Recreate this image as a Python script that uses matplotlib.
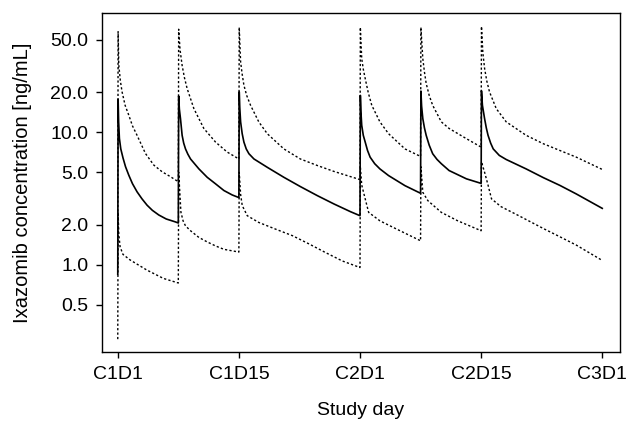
import matplotlib
matplotlib.use("Agg")
import matplotlib.pyplot as plt
from matplotlib.ticker import FixedLocator, NullLocator

# ---- data (day, concentration ng/mL) ----
median_day = [0, 0.04, 0.1, 0.19, 0.35, 0.61, 0.9, 1.27, 1.7, 2.23, 2.8, 3.39, 4.0, 4.74, 5.6, 6.66, 7.0,
              7.04, 7.12, 7.25, 7.44, 7.62, 7.83, 8.1, 8.41, 9.38, 10.34, 11.3, 12.27, 13.23, 14.0,
              14.04, 14.1, 14.2, 14.38, 14.58, 14.85, 15.16, 15.74, 17.28, 19.2, 21.1, 23.07, 25.0, 26.9, 28.0,
              28.04, 28.1, 28.2, 28.38, 28.6, 28.87, 29.17, 29.7, 30.3, 31.3, 33.2, 35.0,
              35.04, 35.12, 35.26, 35.45, 35.65, 36.0, 36.4, 36.9, 37.4, 38.3, 40.3, 42.0,
              42.04, 42.15, 42.4, 42.6, 42.8, 43.1, 43.4, 44.1, 44.9, 47.2, 49.2, 51.1, 53.0, 56.0]
median_conc = [0.85, 17.8, 12.0, 9.0, 7.5, 6.4, 5.5, 4.76, 4.1, 3.56, 3.15, 2.82, 2.58, 2.38, 2.22, 2.11, 2.07,
               18.8, 15.0, 12.7, 9.5, 8.3, 7.5, 6.85, 6.3, 5.3, 4.58, 4.09, 3.64, 3.37, 3.22,
               20.2, 15.5, 12.0, 9.8, 8.45, 7.5, 6.9, 6.3, 5.45, 4.58, 3.9, 3.33, 2.88, 2.52, 2.35,
               19.0, 14.5, 11.3, 9.5, 8.45, 7.3, 6.5, 5.8, 5.3, 4.72, 3.96, 3.47,
               20.5, 15.8, 12.7, 10.8, 9.5, 8.0, 6.9, 6.25, 5.8, 5.15, 4.46, 4.12,
               20.6, 16.0, 12.7, 10.8, 9.5, 8.3, 7.5, 6.7, 6.24, 5.3, 4.55, 3.98, 3.43, 2.67]

p95_day = [0, 0.04, 0.12, 0.3, 0.5, 0.85, 1.27, 1.7, 2.23, 3.2, 4.17, 5.13, 6.09, 7.0,
           7.04, 7.2, 7.44, 7.7, 8.02, 8.8, 9.95, 11.3, 12.65, 14.0,
           14.04, 14.2, 14.38, 14.58, 14.9, 15.35, 16.3, 17.28, 19.2, 21.1, 23.07, 25.0, 28.0,
           28.04, 28.2, 28.38, 28.6, 28.95, 29.36, 30.3, 31.3, 33.2, 35.0,
           35.04, 35.26, 35.45, 35.65, 36.0, 36.4, 37.4, 38.3, 40.3, 42.0,
           42.04, 42.2, 42.4, 42.65, 42.97, 43.75, 44.9, 47.2, 49.2, 51.1, 53.0, 56.0]
p95_conc = [1.0, 57.5, 32.2, 24.5, 20.2, 16.0, 13.5, 11.2, 9.5, 6.93, 5.66, 5.04, 4.63, 4.24,
            60.0, 42.0, 32.0, 26.0, 21.4, 15.1, 10.7, 8.45, 7.1, 6.3,
            62.0, 34.0, 27.5, 22.7, 19.0, 16.0, 12.0, 9.77, 7.5, 6.3, 5.62, 5.07, 4.4,
            62.0, 36.0, 30.0, 25.5, 20.0, 16.0, 12.0, 9.77, 7.5, 6.58,
            62.0, 36.0, 28.5, 23.4, 19.0, 16.0, 12.0, 10.7, 8.96, 7.74,
            63.0, 40.0, 30.4, 24.5, 20.2, 15.1, 12.0, 9.5, 8.2, 7.3, 6.5, 5.25]

p05_day = [0, 0.04, 0.12, 0.27, 0.6, 1.42, 3.36, 5.28, 7.0,
           7.04, 7.3, 7.55, 7.83, 8.41, 9.38, 10.34, 11.3, 12.27, 14.0,
           14.04, 14.2, 14.39, 14.97, 16.3, 18.25, 20.2, 22.1, 24.0, 25.96, 28.0,
           28.04, 28.2, 28.6, 29.0, 30.3, 32.25, 35.0,
           35.04, 35.26, 35.85, 37.4, 39.3, 42.0,
           42.04, 42.4, 42.8, 43.2, 44.3, 46.3, 49.2, 51.1, 53.0, 56.0]
p05_conc = [0.275, 2.5, 1.7, 1.37, 1.2, 1.09, 0.914, 0.79, 0.73,
            5.0, 2.5, 2.15, 1.97, 1.81, 1.61, 1.49, 1.39, 1.31, 1.25,
            5.0, 3.4, 2.8, 2.35, 2.09, 1.86, 1.66, 1.44, 1.24, 1.07, 0.955,
            5.5, 4.0, 3.15, 2.49, 2.15, 1.86, 1.52,
            5.5, 3.53, 3.05, 2.49, 2.15, 1.81,
            6.0, 5.0, 4.0, 3.15, 2.75, 2.36, 1.88, 1.63, 1.41, 1.08]

xtick_days = [0, 14, 28, 42, 56]
xtick_labels = ["C1D1", "C1D15", "C2D1", "C2D15", "C3D1"]
ytick_vals = [0.5, 1.0, 2.0, 5.0, 10.0, 20.0, 50.0]
ytick_labels = ["0.5", "1.0", "2.0", "5.0", "10.0", "20.0", "50.0"]

# ---- figure ----
plt.rcParams['font.family'] = ['Liberation Sans', 'DejaVu Sans']
plt.rcParams['font.size'] = 14

fig = plt.figure(figsize=(6.27, 4.23), dpi=100)
ax = fig.add_axes([0.1627, 0.1672, 0.8261, 0.8028])

dots = (0, (1.6, 1.6))
ax.plot(p95_day, p95_conc, color='black', lw=1.0, linestyle=dots)
ax.plot(p05_day, p05_conc, color='black', lw=1.0, linestyle=dots)
ax.plot(median_day, median_conc, color='black', lw=1.2, linestyle='-')

ax.set_yscale('log')
ax.set_xlim(-1.82, 58.05)
ax.set_ylim(0.219, 80.0)

ax.yaxis.set_major_locator(FixedLocator(ytick_vals))
ax.yaxis.set_minor_locator(NullLocator())
ax.set_yticklabels(ytick_labels)
ax.set_xticks(xtick_days)
ax.set_xticklabels(xtick_labels)

ax.tick_params(axis='both', direction='out', length=4.3, width=1.0,
               color='black', labelsize=14, pad=5.5)
for s in ax.spines.values():
    s.set_linewidth(1.0)
    s.set_color('black')

ax.set_xlabel("Study day", fontsize=14, labelpad=14)
ax.set_ylabel("Ixazomib concentration [ng/mL]", fontsize=14.5, labelpad=13)

fig.savefig("out.png", dpi=100)
